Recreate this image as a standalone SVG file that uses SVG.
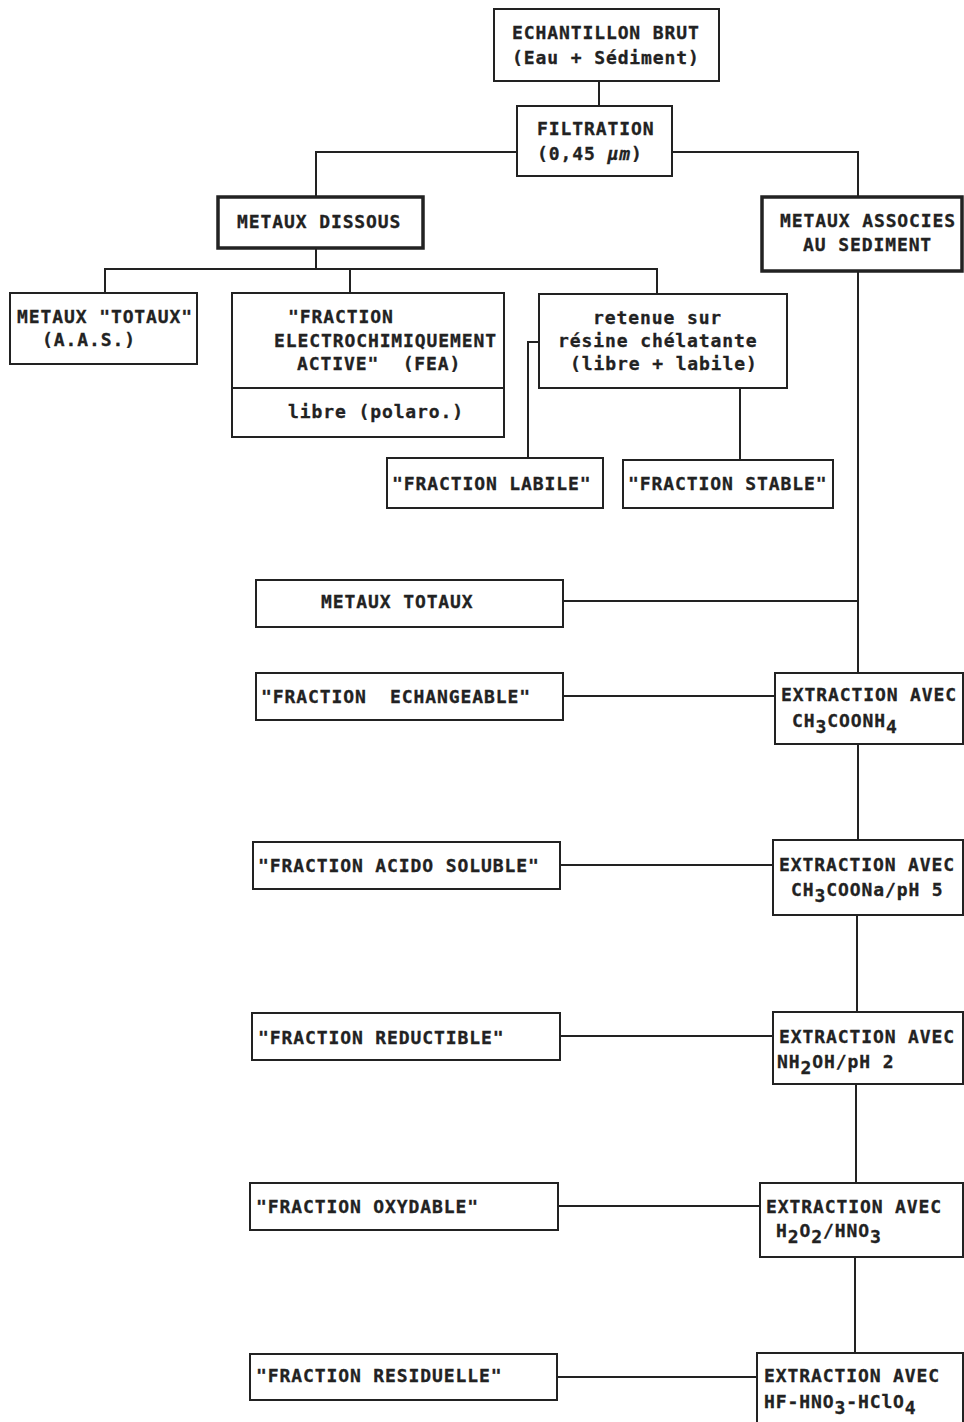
<svg xmlns="http://www.w3.org/2000/svg" width="964" height="1422" viewBox="0 0 964 1422">
<style>
.b{fill:#fff;stroke:#222;stroke-width:2}
.bt{fill:#fff;stroke:#222;stroke-width:3.5}
.c{fill:none;stroke:#222;stroke-width:2}
text{font-family:"DejaVu Sans Mono","Liberation Mono",monospace;font-weight:bold;font-size:18px;letter-spacing:0.9px;fill:#222;stroke:#222;stroke-width:0.3;white-space:pre}
</style>
<rect width="964" height="1422" fill="#fff"/>
<g id="connectors">
<path class="c" d="M599 81V106"/>
<path class="c" d="M517 152H316V197"/>
<path class="c" d="M672 152H858V197"/>
<path class="c" d="M316 248V269"/>
<path class="c" d="M105 293V269H657V294"/>
<path class="c" d="M350 269V293"/>
<path class="c" d="M539 342H528V458"/>
<path class="c" d="M740 388V460"/>
<path class="c" d="M858 271V673"/>
<path class="c" d="M563 601H858"/>
<path class="c" d="M563 696H775"/>
<path class="c" d="M858 744V840"/>
<path class="c" d="M560 865H773"/>
<path class="c" d="M857 915V1012"/>
<path class="c" d="M560 1036H773"/>
<path class="c" d="M856 1084V1183"/>
<path class="c" d="M558 1206H760"/>
<path class="c" d="M855 1257V1353"/>
<path class="c" d="M557 1377H757"/>
</g>
<g id="n-echantillon">
<rect class="b" x="494" y="9" width="225" height="72"/>
<text x="512" y="39">ECHANTILLON BRUT</text>
<text x="512" y="64">(Eau + Sédiment)</text>
</g>
<g id="n-filtration">
<rect class="b" x="517" y="106" width="155" height="70"/>
<text x="537" y="135">FILTRATION</text>
<text x="537" y="160">(0,45 <tspan font-style="italic">μm</tspan>)</text>
</g>
<g id="n-dissous">
<rect class="bt" x="218" y="197" width="205" height="51"/>
<text x="237" y="228">METAUX DISSOUS</text>
</g>
<g id="n-associes">
<rect class="bt" x="762" y="197" width="200" height="74"/>
<text x="780" y="227">METAUX ASSOCIES</text>
<text x="803" y="251">AU SEDIMENT</text>
</g>
<g id="n-totaux-aas">
<rect class="b" x="10" y="293" width="187" height="71"/>
<text x="17" y="323">METAUX "TOTAUX"</text>
<text x="42" y="346">(A.A.S.)</text>
</g>
<g id="n-fea">
<rect class="b" x="232" y="293" width="272" height="144"/>
<path class="c" d="M232 388H504"/>
<text x="288" y="323">"FRACTION</text>
<text x="274" y="347">ELECTROCHIMIQUEMENT</text>
<text x="297" y="370">ACTIVE"  (FEA)</text>
<text x="288" y="418">libre (polaro.)</text>
</g>
<g id="n-resine">
<rect class="b" x="539" y="294" width="248" height="94"/>
<text x="593" y="324">retenue sur</text>
<text x="558" y="347">résine chélatante</text>
<text x="570" y="370">(libre + labile)</text>
</g>
<g id="n-labile">
<rect class="b" x="387" y="458" width="216" height="50"/>
<text x="392" y="490">"FRACTION LABILE"</text>
</g>
<g id="n-stable">
<rect class="b" x="623" y="460" width="210" height="48"/>
<text x="628" y="490">"FRACTION STABLE"</text>
</g>
<g id="n-metaux-totaux">
<rect class="b" x="256" y="580" width="307" height="47"/>
<text x="321" y="608">METAUX TOTAUX</text>
</g>
<g id="n-echangeable">
<rect class="b" x="256" y="673" width="307" height="47"/>
<text x="261" y="703">"FRACTION  ECHANGEABLE"</text>
</g>
<g id="n-ext1">
<rect class="b" x="775" y="673" width="188" height="71"/>
<text x="781" y="701">EXTRACTION AVEC</text>
<text x="792" y="727">CH<tspan dy="6">3</tspan><tspan dy="-6">COONH</tspan><tspan dy="6">4</tspan></text>
</g>
<g id="n-acido">
<rect class="b" x="253" y="842" width="307" height="47"/>
<text x="258" y="872">"FRACTION ACIDO SOLUBLE"</text>
</g>
<g id="n-ext2">
<rect class="b" x="773" y="840" width="190" height="75"/>
<text x="779" y="871">EXTRACTION AVEC</text>
<text x="791" y="896">CH<tspan dy="6">3</tspan><tspan dy="-6">COONa/pH 5</tspan></text>
</g>
<g id="n-reductible">
<rect class="b" x="252" y="1013" width="308" height="47"/>
<text x="258" y="1044">"FRACTION REDUCTIBLE"</text>
</g>
<g id="n-ext3">
<rect class="b" x="773" y="1012" width="190" height="72"/>
<text x="779" y="1043">EXTRACTION AVEC</text>
<text x="777" y="1068">NH<tspan dy="6">2</tspan><tspan dy="-6">OH/pH 2</tspan></text>
</g>
<g id="n-oxydable">
<rect class="b" x="250" y="1183" width="308" height="47"/>
<text x="256" y="1213">"FRACTION OXYDABLE"</text>
</g>
<g id="n-ext4">
<rect class="b" x="760" y="1183" width="203" height="74"/>
<text x="766" y="1213">EXTRACTION AVEC</text>
<text x="776" y="1237">H<tspan dy="6">2</tspan><tspan dy="-6">O</tspan><tspan dy="6">2</tspan><tspan dy="-6">/HNO</tspan><tspan dy="6">3</tspan></text>
</g>
<g id="n-residuelle">
<rect class="b" x="250" y="1354" width="307" height="46"/>
<text x="256" y="1382">"FRACTION RESIDUELLE"</text>
</g>
<g id="n-ext5">
<rect class="b" x="757" y="1353" width="206" height="70"/>
<text x="764" y="1382">EXTRACTION AVEC</text>
<text x="764" y="1408">HF-HNO<tspan dy="6">3</tspan><tspan dy="-6">-HClO</tspan><tspan dy="6">4</tspan></text>
</g>
</svg>
